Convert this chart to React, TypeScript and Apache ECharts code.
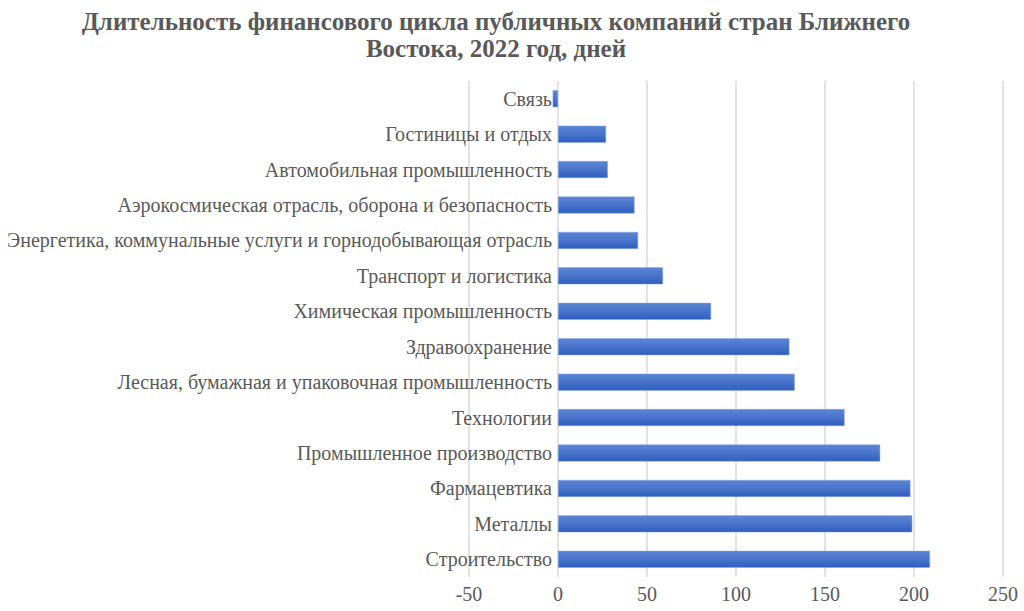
import React, { useEffect, useRef } from "react";
import * as echarts from "echarts";

const categories = [
  "Связь",
  "Гостиницы и отдых",
  "Автомобильная промышленность",
  "Аэрокосмическая отрасль, оборона и безопасность",
  "Энергетика, коммунальные услуги и горнодобывающая отрасль",
  "Транспорт и логистика",
  "Химическая промышленность",
  "Здравоохранение",
  "Лесная, бумажная и упаковочная промышленность",
  "Технологии",
  "Промышленное производство",
  "Фармацевтика",
  "Металлы",
  "Строительство",
];

const values = [-3, 27, 28, 43, 45, 59, 86, 130, 133, 161, 181, 198, 199, 209];

const titleText = "Длительность финансового цикла публичных компаний стран Ближнего\nВостока, 2022 год, дней";

const SERIF = "Liberation Serif";

export default function App() {
  const ref = useRef<HTMLDivElement>(null);
  useEffect(() => {
    if (!ref.current) return;
    const chart = echarts.init(ref.current, undefined, { renderer: "svg" });
    chart.setOption({
      animation: false,
      backgroundColor: "#ffffff",
      textStyle: { fontFamily: SERIF },
      title: {
        text: titleText,
        left: 491,
        top: 3,
        textAlign: "center",
        textStyle: {
          fontFamily: SERIF,
          fontWeight: "bold",
          fontSize: 25,
          lineHeight: 27,
          color: "#595959",
        },
      },
      grid: { left: 469, right: 21, top: 81, bottom: 34, containLabel: false },
      xAxis: {
        type: "value",
        min: -50,
        max: 250,
        interval: 50,
        axisLine: { show: false },
        axisTick: { show: false },
        axisLabel: {
          fontFamily: SERIF,
          fontSize: 20,
          color: "#595959",
          margin: 7,
        },
        splitLine: { lineStyle: { color: "#d9d9d9", width: 1.5 } },
      },
      yAxis: {
        type: "category",
        data: categories,
        inverse: true,
        position: "left",
        offset: -89,
        axisLine: { show: false, onZero: false },
        axisTick: { show: false },
        axisLabel: {
          fontFamily: SERIF,
          fontSize: 20,
          color: "#595959",
          margin: 6,
        },
      },
      series: [
        {
          type: "bar",
          data: values,
          barWidth: 17,
          itemStyle: {
            color: new echarts.graphic.LinearGradient(0, 0, 0, 1, [
              { offset: 0, color: "#5a84d3" },
              { offset: 0.5, color: "#4a74cb" },
              { offset: 1, color: "#2d5dbd" },
            ]),
            borderColor: "#8fabe0",
            borderWidth: 0.5,
          },
        },
      ],
    });
    return () => chart.dispose();
  }, []);
  return (
    <div
      ref={ref}
      style={{ position: "absolute", left: 0, top: 0, width: 1024, height: 611 }}
    />
  );
}
